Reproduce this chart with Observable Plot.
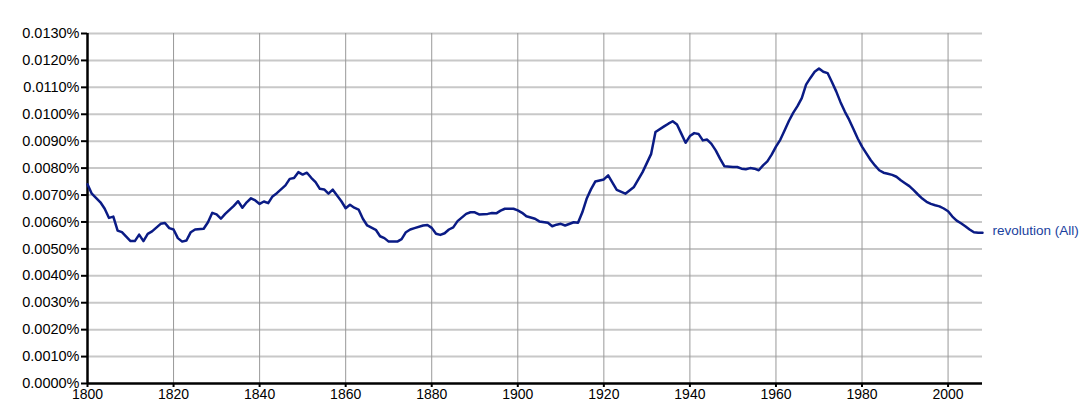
<!DOCTYPE html>
<html>
<head>
<meta charset="utf-8">
<script src="https://cdn.jsdelivr.net/npm/d3@7"></script>
<script src="https://cdn.jsdelivr.net/npm/@observablehq/plot@0.6"></script>
<style>
  html, body { margin: 0; padding: 0; background: #fff; }
  #chart svg { font-family: "Liberation Sans", Arial, sans-serif; display: block; }
</style>
</head>
<body>
<div id="chart"></div>
<script>
// Years and values (values in thousandths of a percent, e.g. 7.40 -> 0.00740%)
const years = [
  1800,1801,1803,1804,1805,1806,1807,1808,1810,1811,1812,1813,1814,1815,1817,1818,1819,
  1820,1821,1822,1823,1824,1825,1827,1828,1829,1830,1831,1832,1834,1835,1836,1837,1838,1839,
  1840,1841,1842,1843,1844,1846,1847,1848,1849,1850,1851,1852,1853,1854,1855,1856,1857,1858,1859,
  1860,1861,1862,1863,1864,1865,1867,1868,1869,1870,1872,1873,1874,1875,1876,1878,1879,
  1880,1881,1882,1883,1884,1885,1886,1888,1889,1890,1891,1893,1894,1895,1896,1897,1899,
  1900,1901,1902,1904,1905,1907,1908,1909,1910,1911,1913,1914,1915,1916,1917,1918,
  1920,1921,1923,1925,1927,1929,1931,1932,1934,1935,1936,1937,1938,1939,
  1940,1941,1942,1943,1944,1945,1946,1947,1948,1950,1951,1952,1953,1954,1955,1956,1957,1958,1959,
  1960,1961,1962,1963,1964,1965,1966,1967,1968,1969,1970,1971,1972,1973,1974,1975,1976,1977,1978,1979,
  1980,1981,1982,1983,1984,1985,1986,1987,1988,1989,1990,1991,1992,1993,1994,1995,1996,1997,1998,1999,
  2000,2001,2002,2003,2004,2005,2006,2007,2008
];
const values = [
  7.40,7.05,6.73,6.49,6.15,6.20,5.68,5.62,5.29,5.29,5.53,5.29,5.56,5.65,5.93,5.96,5.77,
  5.72,5.40,5.27,5.31,5.62,5.72,5.75,5.99,6.34,6.28,6.12,6.30,6.60,6.77,6.53,6.73,6.88,6.80,
  6.67,6.76,6.70,6.95,7.07,7.36,7.60,7.63,7.85,7.76,7.83,7.64,7.48,7.23,7.21,7.05,7.20,6.98,6.77,
  6.51,6.64,6.53,6.46,6.12,5.87,5.71,5.47,5.40,5.27,5.27,5.36,5.62,5.72,5.77,5.87,5.89,
  5.78,5.56,5.52,5.58,5.72,5.80,6.03,6.30,6.36,6.36,6.28,6.30,6.33,6.32,6.42,6.49,6.49,
  6.43,6.34,6.21,6.12,6.02,5.97,5.84,5.90,5.93,5.87,5.99,5.97,6.36,6.86,7.21,7.50,
  7.58,7.73,7.19,7.05,7.30,7.85,8.53,9.34,9.55,9.65,9.74,9.62,9.28,8.94,
  9.19,9.30,9.27,9.03,9.06,8.90,8.66,8.35,8.07,8.04,8.04,7.98,7.96,8.00,7.98,7.92,8.10,8.25,8.50,
  8.80,9.05,9.40,9.75,10.05,10.30,10.60,11.10,11.35,11.58,11.70,11.58,11.53,11.20,10.85,10.45,10.10,9.80,9.45,9.10,
  8.80,8.55,8.30,8.10,7.92,7.83,7.79,7.75,7.68,7.55,7.44,7.33,7.18,7.02,6.87,6.75,6.67,6.62,6.58,6.50,
  6.40,6.20,6.05,5.95,5.84,5.72,5.62,5.60,5.60
];
const seriesName = "revolution (All)";
const yTicks = [0,0.001,0.002,0.003,0.004,0.005,0.006,0.007,0.008,0.009,0.010,0.011,0.012,0.013];
const xTicks = [1800,1820,1840,1860,1880,1900,1920,1940,1960,1980,2000];

const data = years.map((y, i) => ({year: y, value: values[i] / 1000}));
const last = data[data.length - 1];

const chart = Plot.plot({
  width: 1086,
  height: 418,
  marginLeft: 87,
  marginRight: 104,
  marginTop: 33,
  marginBottom: 35,
  x: {domain: [1800, 2008]},
  y: {domain: [0, 0.013]},
  style: {fontFamily: '"Liberation Sans", Arial, sans-serif', fontSize: "14px", color: "#000"},
  marks: [
    Plot.ruleY(yTicks.filter(d => d > 0), {stroke: "#c8c8c8", strokeWidth: 2}),
    Plot.ruleX(xTicks.filter(d => d > 1800), {stroke: "#999999", strokeWidth: 1}),
    Plot.axisY(yTicks, {tickFormat: d => d.toFixed(4) + "%", tickSize: 6, tickPadding: 2, fontSize: 14.5, label: null, stroke: "#000", strokeWidth: 2, fill: "#000"}),
    Plot.axisX(xTicks, {tickFormat: d => String(d), tickSize: 4, tickPadding: 2, fontSize: 14, label: null, stroke: "#000", strokeWidth: 2, fill: "#000"}),
    Plot.ruleX([1800], {stroke: "#000", strokeWidth: 2.5}),
    Plot.ruleY([0], {stroke: "#000", strokeWidth: 2.5}),
    Plot.line(data, {x: "year", y: "value", stroke: "#0a1b85", strokeWidth: 2.5}),
    Plot.text([last], {x: "year", y: "value", text: () => seriesName, textAnchor: "start", dx: 10, dy: -2, fill: "#1a3f9e", fontSize: 13.5})
  ]
});
document.getElementById("chart").appendChild(chart);
</script>
</body>
</html>
